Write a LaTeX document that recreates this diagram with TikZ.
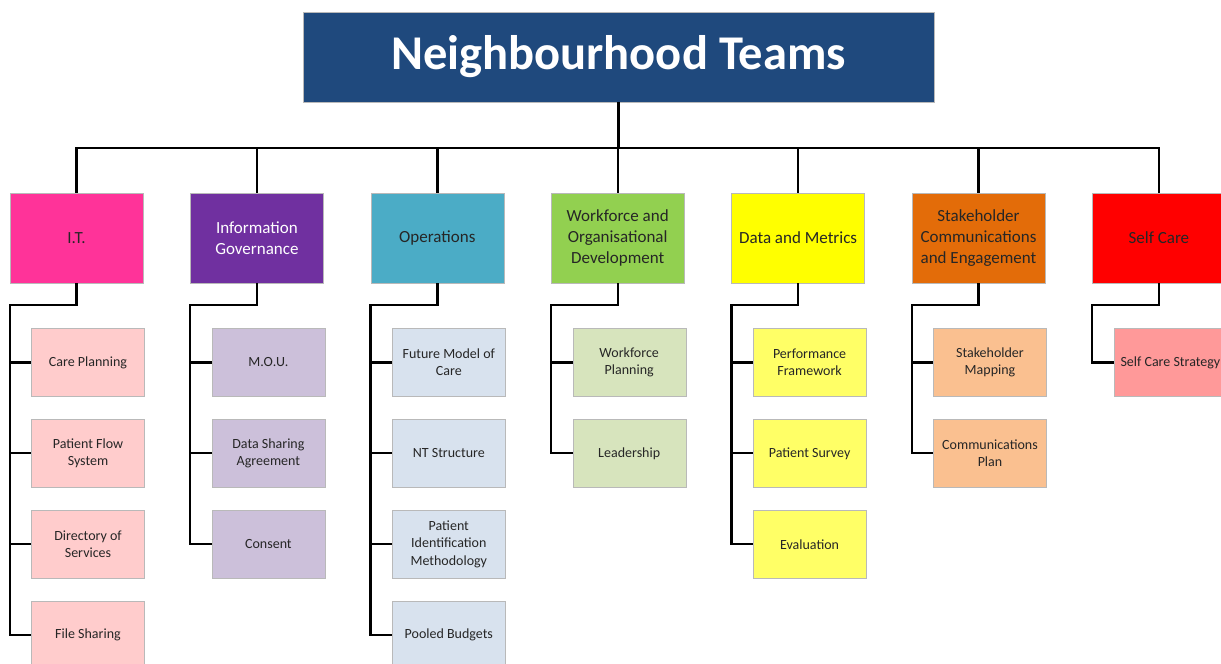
\documentclass[tikz,border=0pt]{standalone}
\usepackage{fontspec}
\setmainfont{Carlito}
\usepackage{xcolor}
\usepackage{tikz}
\usetikzlibrary{positioning}
\definecolor{ntblue}{RGB}{31,73,125}
\definecolor{itpink}{RGB}{255,51,153}
\definecolor{igpurple}{RGB}{112,48,160}
\definecolor{opsblue}{RGB}{75,172,198}
\definecolor{wfgreen}{RGB}{146,208,80}
\definecolor{dmyellow}{RGB}{255,255,0}
\definecolor{shorange}{RGB}{227,108,9}
\definecolor{scred}{RGB}{255,0,0}
\definecolor{itsub}{RGB}{255,204,204}
\definecolor{igsub}{RGB}{204,192,218}
\definecolor{opssub}{RGB}{216,226,238}
\definecolor{wfsub}{RGB}{215,228,189}
\definecolor{dmsub}{RGB}{255,255,102}
\definecolor{shsub}{RGB}{250,192,144}
\definecolor{scsub}{RGB}{255,153,153}
\tikzset{
  headbox/.style={draw=gray!55, fill=ntblue, text=white, font=\fontsize{48.5}{58}\selectfont\bfseries, minimum width=631pt, minimum height=90pt, inner sep=0pt},
  teambox/.style={draw=gray!55, align=center, text=black!85, font=\fontsize{17}{21}\selectfont, minimum width=133pt, minimum height=90pt, inner sep=2pt},
  taskbox/.style={draw=gray!55, align=center, text=black!85, font=\fontsize{14}{17.5}\selectfont, minimum width=113pt, minimum height=68pt, inner sep=2pt},
  link/.style={line width=2.4pt, black},
}

\begin{document}
\begin{tikzpicture}[x=1pt, y=1pt]
    \useasboundingbox (0,0) rectangle (1221,664);
    \clip (0,0) rectangle (1221,664);

    \node[headbox] (nt) at (618.5,607) {Neighbourhood Teams};

    % workstreams
    \node[teambox, fill=itpink] (it) at (76.5,426) {I.T.};
    \node[teambox, fill=igpurple, text=white, right=47pt of it] (ig) {Information\\Governance};
    \node[teambox, fill=opsblue, right=47pt of ig] (ops) {Operations};
    \node[teambox, fill=wfgreen, right=47pt of ops] (wf) {Workforce and\\Organisational\\Development};
    \node[teambox, fill=dmyellow, right=47pt of wf] (dm) {Data and Metrics};
    \node[teambox, fill=shorange, right=47pt of dm] (sh) {Stakeholder\\Communications\\and Engagement};
    \node[teambox, fill=scred, right=47pt of sh] (sc) {Self Care};

    % tasks
    \node[taskbox, fill=itsub, below=45pt of it, xshift=11.5pt] (it1) {Care Planning};
    \node[taskbox, fill=itsub, below=22.5pt of it1] (it2) {Patient Flow\\System};
    \node[taskbox, fill=itsub, below=22.5pt of it2] (it3) {Directory of\\Services};
    \node[taskbox, fill=itsub, below=22.5pt of it3] (it4) {File Sharing};

    \node[taskbox, fill=igsub, below=45pt of ig, xshift=11.5pt] (ig1) {M.O.U.};
    \node[taskbox, fill=igsub, below=22.5pt of ig1] (ig2) {Data Sharing\\Agreement};
    \node[taskbox, fill=igsub, below=22.5pt of ig2] (ig3) {Consent};

    \node[taskbox, fill=opssub, below=45pt of ops, xshift=11.5pt] (ops1) {Future Model of\\Care};
    \node[taskbox, fill=opssub, below=22.5pt of ops1] (ops2) {NT Structure};
    \node[taskbox, fill=opssub, below=22.5pt of ops2] (ops3) {Patient\\Identification\\Methodology};
    \node[taskbox, fill=opssub, below=22.5pt of ops3] (ops4) {Pooled Budgets};

    \node[taskbox, fill=wfsub, below=45pt of wf, xshift=11.5pt] (wf1) {Workforce\\Planning};
    \node[taskbox, fill=wfsub, below=22.5pt of wf1] (wf2) {Leadership};

    \node[taskbox, fill=dmsub, below=45pt of dm, xshift=11.5pt] (dm1) {Performance\\Framework};
    \node[taskbox, fill=dmsub, below=22.5pt of dm1] (dm2) {Patient Survey};
    \node[taskbox, fill=dmsub, below=22.5pt of dm2] (dm3) {Evaluation};

    \node[taskbox, fill=shsub, below=45pt of sh, xshift=11.5pt] (sh1) {Stakeholder\\Mapping};
    \node[taskbox, fill=shsub, below=22.5pt of sh1] (sh2) {Communications\\Plan};

    \node[taskbox, fill=scsub, below=45pt of sc, xshift=11.5pt] (sc1) {Self Care Strategy};

    % top tree
    \coordinate (bus) at (0,516);
    \draw[link] (nt.south) -- (nt.south |- bus);
    \draw[link] (it.north) |- (sc.north |- bus) -- (sc.north);
    \draw[link] (ig.north) -- (ig.north |- bus);
    \draw[link] (ops.north) -- (ops.north |- bus);
    \draw[link] (wf.north) -- (wf.north |- bus);
    \draw[link] (dm.north) -- (dm.north |- bus);
    \draw[link] (sh.north) -- (sh.north |- bus);

    % task trees
    \draw[link] (it.south) -- ++(0,-22pt) -| (it4.west -| it.west) -- (it4.west);
    \draw[link] (it1.west -| it.west) -- (it1.west) (it2.west -| it.west) -- (it2.west) (it3.west -| it.west) -- (it3.west);
    \draw[link] (ig.south) -- ++(0,-22pt) -| (ig3.west -| ig.west) -- (ig3.west);
    \draw[link] (ig1.west -| ig.west) -- (ig1.west) (ig2.west -| ig.west) -- (ig2.west);
    \draw[link] (ops.south) -- ++(0,-22pt) -| (ops4.west -| ops.west) -- (ops4.west);
    \draw[link] (ops1.west -| ops.west) -- (ops1.west) (ops2.west -| ops.west) -- (ops2.west) (ops3.west -| ops.west) -- (ops3.west);
    \draw[link] (wf.south) -- ++(0,-22pt) -| (wf2.west -| wf.west) -- (wf2.west);
    \draw[link] (wf1.west -| wf.west) -- (wf1.west);
    \draw[link] (dm.south) -- ++(0,-22pt) -| (dm3.west -| dm.west) -- (dm3.west);
    \draw[link] (dm1.west -| dm.west) -- (dm1.west) (dm2.west -| dm.west) -- (dm2.west);
    \draw[link] (sh.south) -- ++(0,-22pt) -| (sh2.west -| sh.west) -- (sh2.west);
    \draw[link] (sh1.west -| sh.west) -- (sh1.west);
    \draw[link] (sc.south) -- ++(0,-22pt) -| (sc1.west -| sc.west) -- (sc1.west);
\end{tikzpicture}
\end{document}
